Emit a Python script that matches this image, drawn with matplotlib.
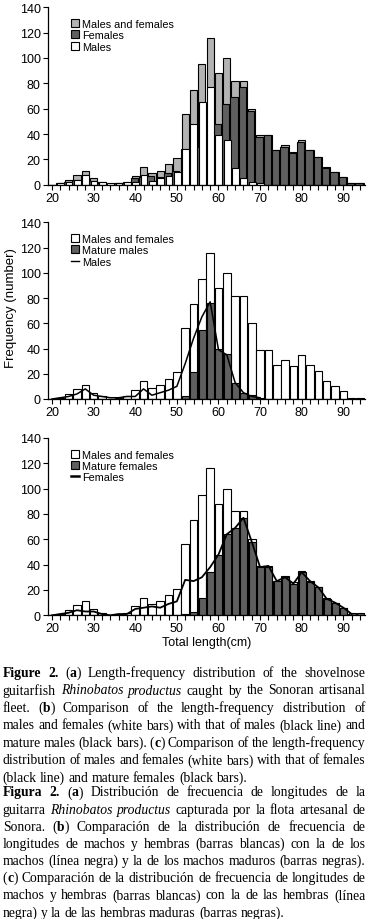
import re
import numpy as np
import matplotlib
matplotlib.use("Agg")
import matplotlib.pyplot as plt
from matplotlib.ticker import MultipleLocator
from matplotlib.patches import Patch
from matplotlib.lines import Line2D

# length classes (cm), 2 cm bins
lengths = [20, 22, 24, 26, 28, 30, 32, 34, 36, 38, 40, 42, 44, 46, 48, 50, 52, 54, 56,
           58, 60, 62, 64, 66, 68, 70, 72, 74, 76, 78, 80, 82, 84, 86, 88, 90, 92, 94]

total = [0, 1, 4, 8, 11, 5, 2, 0, 1, 2, 7, 14, 9, 11, 16, 21, 56, 75, 95,
         116, 88, 100, 82, 82, 60, 39, 39, 27, 31, 26, 35, 27, 22, 14, 10, 6, 1, 1]
females = [0, 1, 2, 4, 3, 3, 1, 0, 1, 1, 5, 6, 7, 6, 9, 11, 28, 27, 30,
           38, 48, 64, 69, 77, 58, 38, 39, 27, 30, 25, 34, 27, 22, 13, 10, 6, 1, 1]
males = [0, 1, 2, 4, 8, 3, 2, 1, 1, 2, 2, 8, 3, 5, 7, 10, 28, 48, 65,
         77, 39, 35, 13, 5, 2, 1, 0, 0, 0, 0, 0, 0, 0, 0, 0, 0, 0, 0]
mature_males = [0, 0, 0, 0, 0, 0, 0, 0, 0, 0, 0, 0, 0, 0, 0, 0, 2, 21, 55,
                76, 40, 36, 13, 5, 3, 1, 0, 0, 0, 0, 0, 0, 0, 0, 0, 0, 0, 0]
mature_females = [0, 0, 0, 0, 0, 0, 0, 0, 0, 0, 0, 0, 0, 0, 0, 0, 1, 3, 14,
                  34, 48, 64, 69, 77, 58, 38, 38, 27, 30, 25, 34, 26, 22, 13, 10, 6, 2, 2]
males_line_end = 70
females_line_end = 92

y_ticks = [0, 20, 40, 60, 80, 100, 120, 140]
x_ticks = [20, 30, 40, 50, 60, 70, 80, 90]

LIGHT = "#b3b3b3"
DARK = "#5f5f5f"
SANS = ["Liberation Sans Narrow", "Liberation Sans", "DejaVu Sans"]
SERIF = ["Liberation Serif", "DejaVu Serif"]

W, H = 368, 920
fig = plt.figure(figsize=(W / 100, H / 100), dpi=100)

x = np.array(lengths)


def make_axes(top_px, bottom_px):
    ax = fig.add_axes([47.7 / W, 1 - bottom_px / H, (365 - 47.7) / W, (bottom_px - top_px) / H])
    ax.set_xlim(18.97, 95.2)
    ax.set_ylim(0, 140)
    ax.set_yticks(y_ticks)
    ax.set_xticks(x_ticks)
    ax.xaxis.set_minor_locator(MultipleLocator(2))
    for s in ["top", "right"]:
        ax.spines[s].set_visible(False)
    for s in ["left", "bottom"]:
        ax.spines[s].set_linewidth(0.9)
    ax.tick_params(axis="both", which="both", direction="out", length=3.5, width=0.8,
                   labelsize=9, pad=1.5, colors="black")
    for lab in ax.get_xticklabels() + ax.get_yticklabels():
        lab.set_family(SANS)
    return ax


def legend(ax, handles, labels):
    leg = ax.legend(handles, labels, loc="upper left", bbox_to_anchor=(0.055, 0.965),
                    frameon=False, handlelength=0.75, handleheight=0.75,
                    handletextpad=0.35, labelspacing=0.12, borderpad=0,
                    prop={"family": SANS, "size": 7.8})
    return leg


# (a)
ax1 = make_axes(8.3, 185.7)
ax1.bar(x, total, width=1.75, color=LIGHT, edgecolor="black", linewidth=0.8)
ax1.bar(x - 0.25, females, width=1.75, color=DARK, edgecolor="black", linewidth=0.8)
ax1.bar(x + 0.1, males, width=1.65, color="white", edgecolor="black", linewidth=0.8)
legend(ax1,
       [Patch(facecolor=LIGHT, edgecolor="black", linewidth=0.8),
        Patch(facecolor=DARK, edgecolor="black", linewidth=0.8),
        Patch(facecolor="white", edgecolor="black", linewidth=0.8)],
       ["Males and females", "Females", "Males"])

# (b)
ax2 = make_axes(223.3, 400)
ax2.bar(x, total, width=1.8, color="white", edgecolor="black", linewidth=0.8)
ax2.bar(x + 0.1, mature_males, width=1.7, color=DARK, edgecolor="black", linewidth=0.8)
m = x <= males_line_end
ax2.plot(x[m], np.array(males)[m], color="black", linewidth=1.1)
legend(ax2,
       [Patch(facecolor="white", edgecolor="black", linewidth=0.8),
        Patch(facecolor=DARK, edgecolor="black", linewidth=0.8),
        Line2D([], [], color="black", linewidth=1.0)],
       ["Males and females", "Mature males", "Males"])
ax2.set_ylabel("Frequency (number)", family=SANS, fontsize=9.5)
ax2.yaxis.set_label_coords(-0.097, 0.52)

# (c)
ax3 = make_axes(439, 616.3)
ax3.bar(x, total, width=1.8, color="white", edgecolor="black", linewidth=0.8)
ax3.bar(x + 0.1, mature_females, width=1.7, color=DARK, edgecolor="black", linewidth=0.8)
f = x <= females_line_end
ax3.plot(x[f], np.array(females)[f], color="black", linewidth=1.3)
legend(ax3,
       [Patch(facecolor="white", edgecolor="black", linewidth=0.8),
        Patch(facecolor=DARK, edgecolor="black", linewidth=0.8),
        Line2D([], [], color="black", linewidth=1.8)],
       ["Males and females", "Mature females", "Females"])
ax3.set_xlabel("Total length(cm)", family=SANS, fontsize=9, labelpad=1)

# caption, justified lines
en_lines = [
    "<b>Figure 2.</b> (<b>a</b>) Length-frequency distribution of the shovelnose",
    "guitarfish <i>Rhinobatos productus</i> caught by the Sonoran artisanal",
    "fleet. (<b>b</b>) Comparison of the length-frequency distribution of",
    "males and females (white bars) with that of males (black line) and",
    "mature males (black bars). (<b>c</b>) Comparison of the length-frequency",
    "distribution of males and females (white bars) with that of females",
    "(black line) and mature females (black bars).",
]
es_lines = [
    "<b>Figura 2.</b> (<b>a</b>) Distribución de frecuencia de longitudes de la",
    "guitarra <i>Rhinobatos productus</i> capturada por la flota artesanal de",
    "Sonora. (<b>b</b>) Comparación de la distribución de frecuencia de",
    "longitudes de machos y hembras (barras blancas) con la de los",
    "machos (línea negra) y la de los machos maduros (barras negras).",
    "(<b>c</b>) Comparación de la distribución de frecuencia de longitudes de",
    "machos y hembras (barras blancas) con la de las hembras (línea",
    "negra) y la de las hembras maduras (barras negras).",
]


def parse(line):
    bold = ital = False
    words, cur = [], []
    for part in re.split(r"(</?[bi]>)", line):
        if part == "<b>":
            bold = True
        elif part == "</b>":
            bold = False
        elif part == "<i>":
            ital = True
        elif part == "</i>":
            ital = False
        else:
            chunks = part.split(" ")
            for k, ch in enumerate(chunks):
                if k > 0:
                    if cur:
                        words.append(cur)
                    cur = []
                if ch:
                    cur.append((ch, bold, ital))
    if cur:
        words.append(cur)
    return words


renderer = fig.canvas.get_renderer()
CAP_SIZE = 9.8


def paragraph(lines, base_px, step_px, x0=2.7, x1=365.5):
    for i, line in enumerate(lines):
        y = 1 - (base_px + i * step_px) / H
        words = parse(line)
        texts = []
        for w in words:
            segs = []
            for s, b, it in w:
                t = fig.text(0, y, s, family=SERIF, fontsize=CAP_SIZE,
                             weight="bold" if b else "normal",
                             style="italic" if it else "normal", va="baseline")
                segs.append((t, t.get_window_extent(renderer).width))
            texts.append(segs)
        widths = [sum(wd for _, wd in segs) for segs in texts]
        last = i == len(lines) - 1
        if last or len(texts) == 1:
            gap = 3.3
        else:
            gap = (x1 - x0 - sum(widths)) / (len(texts) - 1)
        xp = x0
        for segs, wd in zip(texts, widths):
            xs = xp
            for t, sw in segs:
                t.set_x(xs / W)
                xs += sw
            xp += wd + gap


paragraph(en_lines, 677, 17.5)
paragraph(es_lines, 796.5, 17.15)

fig.savefig("out.png", dpi=100)
